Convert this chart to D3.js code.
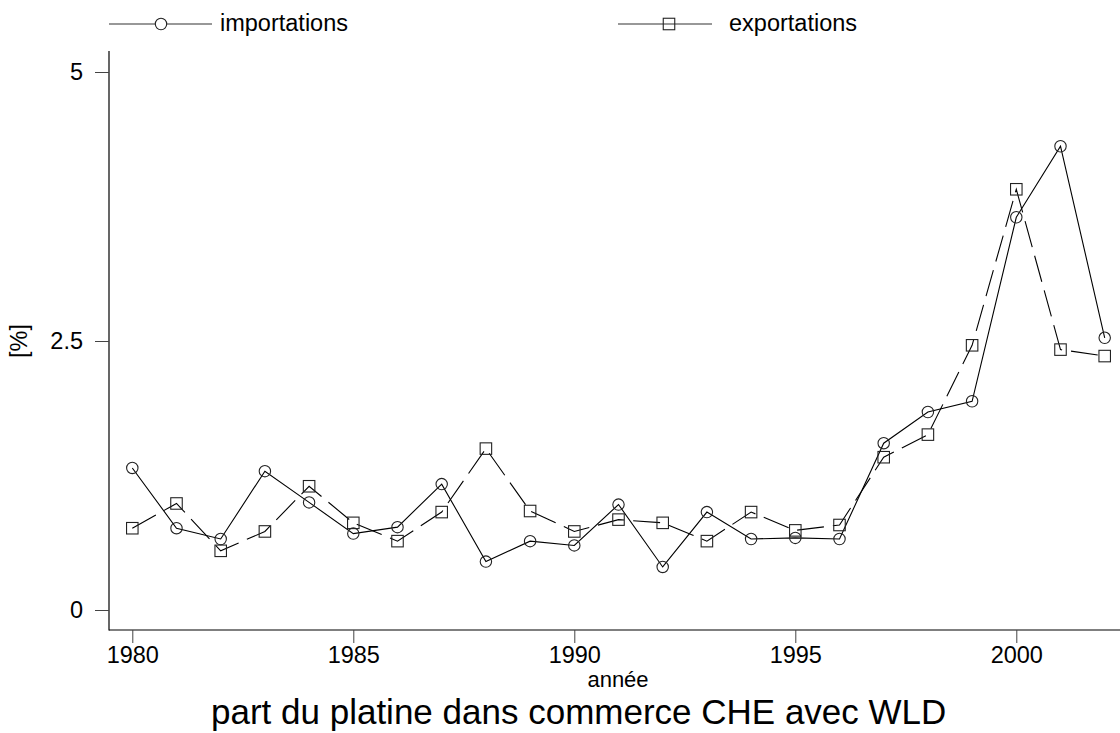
<!DOCTYPE html>
<html>
<head>
<meta charset="utf-8">
<script src="https://cdn.jsdelivr.net/npm/d3@7"></script>
<style>
  html, body { margin: 0; padding: 0; background: #fff; }
  svg { display: block; font-family: "Liberation Sans", Arial, Helvetica, sans-serif; }
</style>
</head>
<body>
<svg id="chart" width="1120" height="733"></svg>
<script>
// Share of platinum in Swiss (CHE) trade with the world (WLD), in percent
const years = [1980, 1981, 1982, 1983, 1984, 1985, 1986, 1987, 1988, 1989, 1990, 1991,
               1992, 1993, 1994, 1995, 1996, 1997, 1998, 1999, 2000, 2001, 2002];
const importations = [1.32, 0.76, 0.66, 1.29, 1.00, 0.71, 0.77, 1.17, 0.45, 0.64, 0.60, 0.98,
                      0.40, 0.91, 0.66, 0.67, 0.66, 1.55, 1.84, 1.94, 3.65, 4.31, 2.53];
const exportations = [0.76, 0.99, 0.55, 0.73, 1.15, 0.81, 0.64, 0.91, 1.50, 0.92, 0.73, 0.84,
                      0.81, 0.64, 0.91, 0.74, 0.79, 1.42, 1.63, 2.46, 3.91, 2.42, 2.36];
const xTicks = [1980, 1985, 1990, 1995, 2000];
const yTicks = [0, 2.5, 5];
const yTickLabels = ["0", "2.5", "5"];

const svg = d3.select("#chart");

const x = d3.scaleLinear().domain([1980, 2002]).range([132.3, 1104.7]);
const y = d3.scaleLinear().domain([0, 5]).range([610, 72]);

const axisX0 = 109, axisY0 = 630;

// axis lines
svg.append("line").attr("x1", axisX0).attr("x2", axisX0).attr("y1", 51).attr("y2", axisY0 + 0.5)
  .attr("stroke", "#000").attr("stroke-width", 1.2);
svg.append("line").attr("x1", axisX0).attr("x2", 1120).attr("y1", axisY0).attr("y2", axisY0)
  .attr("stroke", "#000").attr("stroke-width", 1.2);

// x axis
const gx = svg.append("g").attr("transform", `translate(0,${axisY0})`)
  .call(d3.axisBottom(x).tickValues(xTicks).tickFormat(d3.format("d")).tickSize(13).tickPadding(3));
gx.select(".domain").remove();
gx.selectAll(".tick line").attr("stroke", "#444");
gx.selectAll(".tick text").attr("fill", "#000").style("font-size", "23.5px")
  .style("font-family", "'Liberation Sans', Arial, sans-serif");

// y axis
const gy = svg.append("g").attr("transform", `translate(${axisX0},0)`)
  .call(d3.axisLeft(y).tickValues(yTicks).tickFormat((d, i) => yTickLabels[i]).tickSize(14).tickPadding(12));
gy.select(".domain").remove();
gy.selectAll(".tick line").attr("stroke", "#444");
gy.selectAll(".tick text").attr("fill", "#000").style("font-size", "23.5px")
  .style("font-family", "'Liberation Sans', Arial, sans-serif");

// axis titles
svg.append("text").attr("transform", "translate(27,341) rotate(-90)")
  .attr("text-anchor", "middle").style("font-size", "23.5px").text("[%]");
svg.append("text").attr("x", 618).attr("y", 687)
  .attr("text-anchor", "middle").style("font-size", "22px").text("année");
svg.append("text").attr("x", 211).attr("y", 724)
  .style("font-size", "35px").text("part du platine dans commerce CHE avec WLD");

// series
const line = d3.line().x((d, i) => x(years[i])).y(d => y(d));

svg.append("path").datum(importations).attr("d", line)
  .attr("fill", "none").attr("stroke", "#000").attr("stroke-width", 1.1);
svg.append("path").datum(exportations).attr("d", line)
  .attr("fill", "none").attr("stroke", "#000").attr("stroke-width", 1.1)
  .attr("stroke-dasharray", "27,9");

svg.append("g").selectAll("circle").data(importations).join("circle")
  .attr("cx", (d, i) => x(years[i])).attr("cy", d => y(d)).attr("r", 5.7)
  .attr("fill", "none").attr("stroke", "#222").attr("stroke-width", 1.1);

const sq = 11.5;
svg.append("g").selectAll("rect").data(exportations).join("rect")
  .attr("x", (d, i) => x(years[i]) - sq / 2).attr("y", d => y(d) - sq / 2)
  .attr("width", sq).attr("height", sq)
  .attr("fill", "none").attr("stroke", "#222").attr("stroke-width", 1.1);

// legend
const legend = svg.append("g");
legend.append("line").attr("x1", 109).attr("x2", 212).attr("y1", 24).attr("y2", 24)
  .attr("stroke", "#333").attr("stroke-width", 1.1);
legend.append("circle").attr("cx", 161).attr("cy", 24).attr("r", 5.7)
  .attr("fill", "#fff").attr("stroke", "#222").attr("stroke-width", 1.1);
legend.append("text").attr("x", 220).attr("y", 31).style("font-size", "23.5px").text("importations");

legend.append("line").attr("x1", 618).attr("x2", 712).attr("y1", 24).attr("y2", 24)
  .attr("stroke", "#333").attr("stroke-width", 1.1);
legend.append("rect").attr("x", 669 - sq / 2).attr("y", 24 - sq / 2).attr("width", sq).attr("height", sq)
  .attr("fill", "none").attr("stroke", "#222").attr("stroke-width", 1.1);
legend.append("text").attr("x", 729).attr("y", 31).style("font-size", "23.5px").text("exportations");
</script>
</body>
</html>
